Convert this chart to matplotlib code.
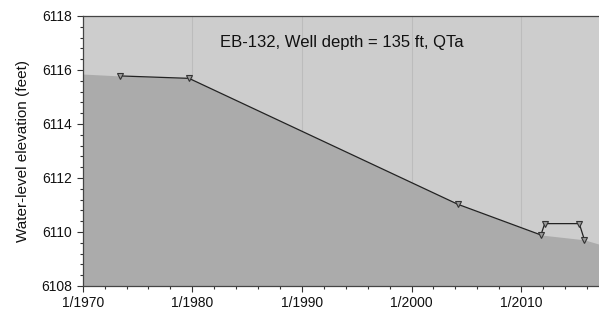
import matplotlib
matplotlib.use("Agg")
import matplotlib.pyplot as plt
from matplotlib.ticker import MultipleLocator

plt.rcParams['font.family'] = ['Liberation Sans', 'DejaVu Sans']

# Measured water levels (decimal year, feet)
years = [1973.4, 1979.7, 2004.2, 2011.8, 2012.15, 2015.3, 2015.77]
levels = [6115.78, 6115.69, 6111.03, 6109.89, 6110.31, 6110.31, 6109.71]

# Shaded area boundary (decimal year, feet)
fill_years = [1970.0, 1973.4, 1979.7, 2004.2, 2011.8, 2015.77, 2017.1]
fill_levels = [6115.85, 6115.78, 6115.69, 6111.03, 6109.89, 6109.71, 6109.55]

xticks = [1970, 1980, 1990, 2000, 2010]
xticklabels = ['1/1970', '1/1980', '1/1990', '1/2000', '1/2010']
yticks = [6108, 6110, 6112, 6114, 6116, 6118]

title = 'EB-132, Well depth = 135 ft, QTa'
ylabel = 'Water-level elevation (feet)'

fig = plt.figure(figsize=(5.99, 3.11), dpi=100)
ax = fig.add_axes([0.138, 0.0804, 0.862, 0.8682])
ax.set_facecolor('#cdcdcd')

ax.set_xlim(1970, 2017.1)
ax.set_ylim(6108, 6118)

ax.fill_between(fill_years, fill_levels, 6108, color='#ababab', lw=0, zorder=1)
for x in xticks[1:]:
    ax.axvline(x, color='#bcbcbc', lw=0.8, zorder=0.5)

ax.plot(years, levels, color='#222222', lw=0.9, marker='v', markersize=5,
        markerfacecolor='#9a9a9a', markeredgecolor='#333333', markeredgewidth=0.8,
        zorder=3)

ax.set_xticks(xticks)
ax.set_xticklabels(xticklabels)
ax.set_yticks(yticks)
ax.xaxis.set_minor_locator(MultipleLocator(2))
ax.yaxis.set_minor_locator(MultipleLocator(0.4))
ax.tick_params(axis='both', which='major', direction='out', length=4, width=0.8,
               color='#333333', labelsize=10, labelcolor='#111111')
ax.tick_params(axis='both', which='minor', direction='out', length=2.5, width=0.8,
               color='#333333')

for s in ['left', 'bottom', 'top']:
    ax.spines[s].set_color('#444444')
    ax.spines[s].set_linewidth(0.9)
ax.spines['right'].set_visible(False)

ax.set_ylabel(ylabel, fontsize=11, color='#111111', labelpad=8)
fig.text(341.7 / 599, 1 - 42 / 311, title, ha='center', va='center',
         fontsize=12, color='#111111')

fig.savefig('out.png', dpi=100)
